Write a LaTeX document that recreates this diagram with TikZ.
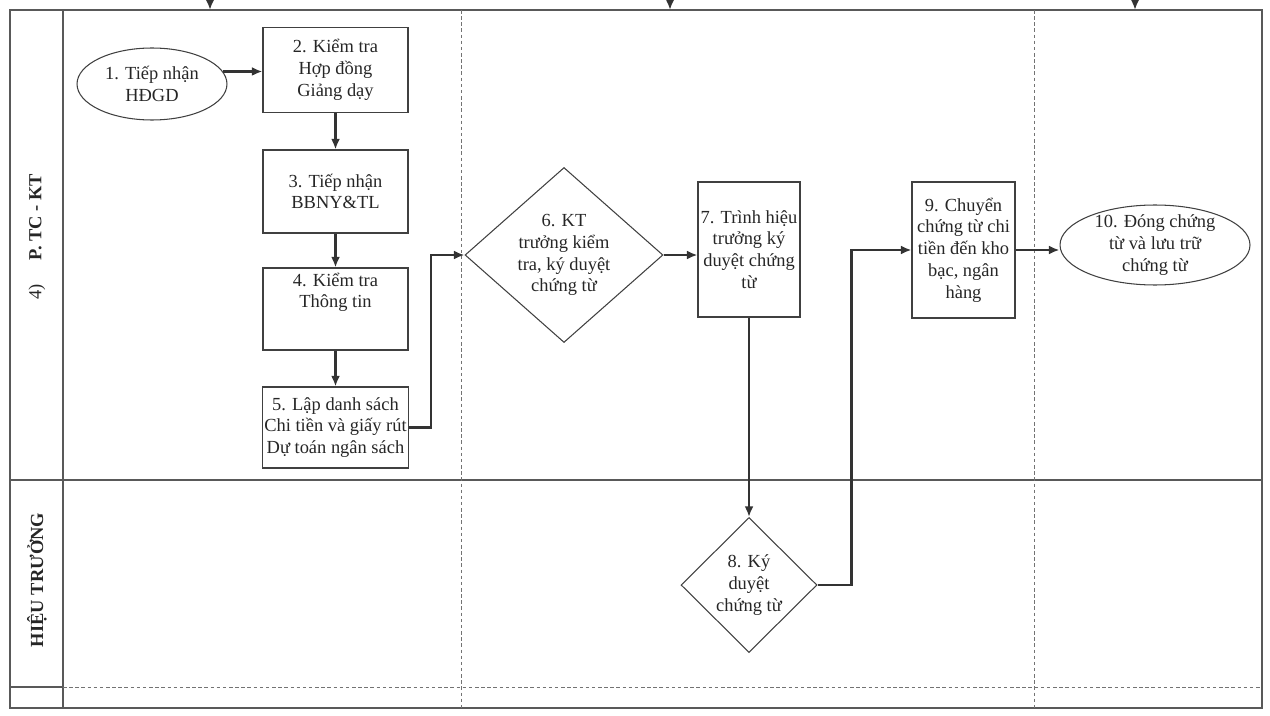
\documentclass[tikz,border=0pt]{standalone}
\usepackage{fontspec}
\setmainfont{Liberation Serif}
\usetikzlibrary{shapes.geometric,arrows.meta}
\begin{document}
\begin{tikzpicture}[x=0.02cm,y=-0.02cm,font=\fontsize{10.5}{12.4}\selectfont,
  frame/.style={black!65,line width=0.6pt},
  sep/.style={black!55,line width=0.5pt,dash pattern=on 2pt off 1.5pt},
  box/.style={draw=black!75,line width=0.6pt,rectangle,align=center,inner sep=1pt,text=black!85},
  oval/.style={draw=black!75,line width=0.6pt,ellipse,align=center,inner sep=0pt,text=black!85},
  rhomb/.style={draw=black!75,line width=0.6pt,diamond,align=center,inner sep=-4pt,text=black!85},
  flow/.style={-{Latex[length=6pt,width=5pt]},black!80,line width=1.3pt}]
\useasboundingbox (0,0) rectangle (1270,716);
\pgfmathsetmacro{\xl}{10}           %outer frame
\pgfmathsetmacro{\xr}{1262}
\pgfmathsetmacro{\yt}{10}
\pgfmathsetmacro{\yb}{708}
%lanes
\draw[frame](\xl,\yt) rectangle (\xr,\yb);
\draw[frame](63,\yt)--(63,\yb);
\draw[frame](\xl,480)--(\xr,480);
\draw[frame](\xl,687)--(63,687);
\draw[sep](63,687)--(\xr,687);
\draw[sep](461,\yt)--(461,\yb);
\draw[sep](1034,\yt)--(1034,\yb);
%lane names
\node[rotate=90,text=black!85] (lane1) at (37,237) {4)\hspace{1.3em}\textbf{P. TC - KT}};
\node[rotate=90,text=black!85,font=\bfseries\fontsize{10.5}{12.4}\selectfont] (lane2) at (37,580) {HIỆU TRƯỞNG};
%incoming arrows
\coordinate (in1) at (210,0);
\coordinate (in2) at (670,0);
\coordinate (in3) at (1135,0);
\foreach \c in {in1,in2,in3}
  \draw[flow] (\c)--++(0,\yt);
%steps
\node[oval,minimum width=3cm,minimum height=1.44cm] (n1) at (152,84) {1. Tiếp nhận\\HĐGD};
\node[box,minimum width=2.9cm,minimum height=1.7cm] (n2) at (335.5,70) {2. Kiểm tra\\Hợp đồng\\Giảng dạy};
\node[box,minimum width=2.9cm,minimum height=1.66cm] (n3) at (335.5,191.5) {3. Tiếp nhận\\BBNY\&TL};
\node[box,minimum width=2.9cm,minimum height=1.64cm,text depth=0.75cm] (n4) at (335.5,309) {4. Kiểm tra\\Thông tin};
\node[box,minimum width=2.9cm,minimum height=1.62cm] (n5) at (335.5,427.5) {5. Lập danh sách\\Chi tiền và giấy rút\\Dự toán ngân sách};
\node[rhomb,minimum width=3.96cm,minimum height=3.5cm] (n6) at (564,255) {6. KT\\trưởng kiểm\\tra, ký duyệt\\chứng từ};
\node[box,minimum width=2.04cm,minimum height=2.7cm] (n7) at (749,249.5) {7. Trình hiệu\\trưởng ký\\duyệt chứng\\từ};
\node[rhomb,minimum width=2.72cm,minimum height=2.7cm] (n8) at (749,585) {8. Ký\\duyệt\\chứng từ};
\node[box,minimum width=2.06cm,minimum height=2.72cm] (n9) at (963.5,250) {9. Chuyển\\chứng từ chi\\tiền đến kho\\bạc, ngân\\hàng};
\node[oval,minimum width=3.8cm,minimum height=1.6cm,inner ysep=-3pt] (n10) at (1155,245) {10. Đóng chứng\\từ và lưu trữ\\chứng từ};
%flow
\draw[flow] (n1.10)--(n1.10 -| n2.west);
\draw[flow] (n2.south)--(n3.north);
\draw[flow] (n3.south)--(n4.north);
\draw[flow] (n4.south)--(n5.north);
\draw[flow] (n5.east)--++(22,0) |- (n6.west);
\draw[flow] (n6.east)--(n6.east -| n7.west);
\draw[flow] (n7.south)--(n8.north);
\draw[flow] (n8.east)--++(34,0) |- (n9.west);
\draw[flow] (n9.east)--(n9.east -| n10.west);
\end{tikzpicture}
\end{document}
